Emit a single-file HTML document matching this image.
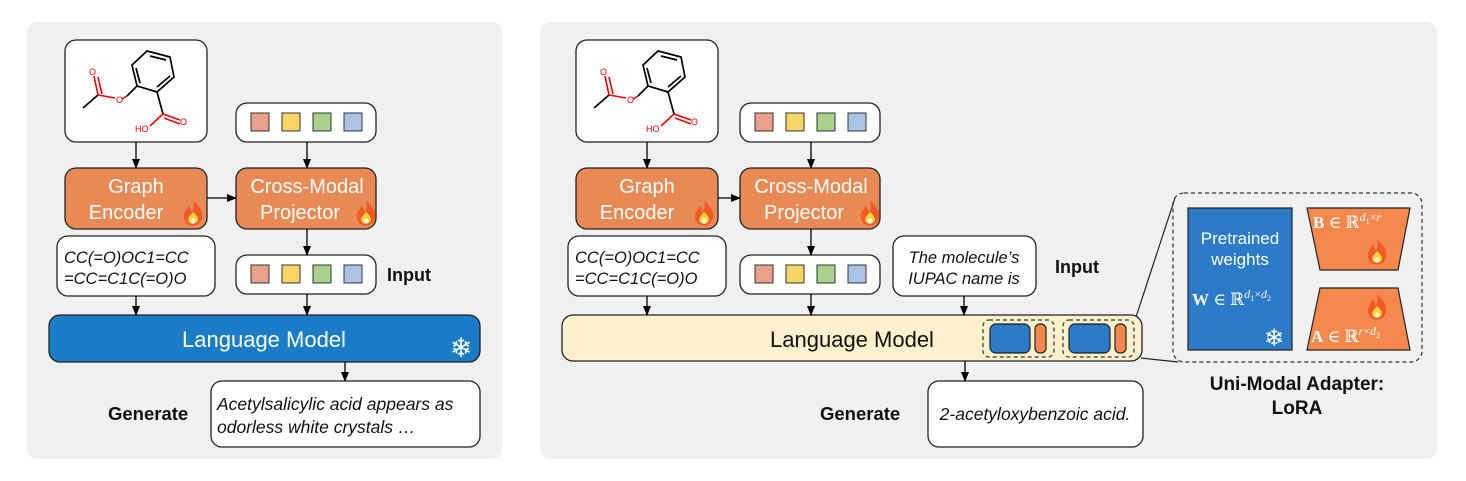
<!DOCTYPE html>
<html><head><meta charset="utf-8"><style>
html,body{margin:0;padding:0;background:#fff;}
svg{display:block;}
text{font-family:"Liberation Sans","DejaVu Sans",sans-serif;}
text.m{font-family:"Liberation Serif","DejaVu Serif",serif;}
</style></head><body>
<svg width="1466" height="481" viewBox="0 0 1466 481" xmlns="http://www.w3.org/2000/svg">
<defs>
<marker id="ar" markerWidth="10" markerHeight="10" refX="9" refY="5" orient="auto" markerUnits="userSpaceOnUse">
<path d="M0,1 L10,5 L0,9 Z" fill="#000"/></marker>
<g id="mol">
<g stroke="#000" stroke-width="1.7" fill="none">
<path d="M147,51 L170,57 L174,77 L157,92 L137,86 L132,65 Z"/>
<path d="M150,56 L166,60 M170,76 L157,87 M140,83 L136,68"/>
<path d="M137,86 L127,96"/>
<path d="M98,95 L83,108"/>
<path d="M157,92 L163,114"/>
</g>
<g stroke="#e00" stroke-width="1.6" fill="none">
<path d="M127,96 L122,99 M115,98 L98,95"/>
<path d="M98,95 L94,76 M102,94 L98,77"/>
<path d="M163,114 L180,120 M164,118 L180,124"/>
<path d="M163,114 L150,126"/>
</g>
<g fill="#e00" font-size="9"><text x="116" y="103">O</text><text x="89" y="75">O</text><text x="180" y="125">O</text><text x="135" y="132">HO</text></g>
</g>
<g id="sq">
<rect x="0" y="0" width="140" height="39" rx="11" fill="#fff" stroke="#222" stroke-width="1.3"/>
<rect x="15" y="10" width="18" height="18" fill="#e9a08a" stroke="#333"/>
<rect x="46" y="10" width="18" height="18" fill="#f6d466" stroke="#333"/>
<rect x="77" y="10" width="18" height="18" fill="#a8d18b" stroke="#333"/>
<rect x="108" y="10" width="18" height="18" fill="#abc4e6" stroke="#333"/>
</g>
<g id="fire0">
<path d="M0,-11 C5,-6 9,-2 8,4 C7,9 3,11 0,11 C-4,11 -8,8 -8,3 C-8,-1 -5,-3 -4,-7 C-2,-4 -2,-2 -1,-1 C1,-4 1,-7 0,-11 Z" fill="#f05a24"/>
<path d="M0,-1 C3,2 5,4 4,7 C3,10 -3,10 -4,7 C-5,4 -2,2 0,-1 Z" fill="#ffd23a"/>
<circle cx="0" cy="7" r="2.3" fill="#fff7d0"/>
</g>
<g id="fire"><use href="#fire0" transform="scale(1.15)"/></g>
</defs>

<rect x="27" y="22" width="475" height="437" rx="10" fill="#f0f0f0"/>
<rect x="540" y="22" width="897" height="437" rx="10" fill="#f0f0f0"/>

<!-- LEFT -->
<rect x="65" y="40" width="142" height="102" rx="11" fill="#fff" stroke="#222" stroke-width="1.3"/>
<use href="#mol"/>
<use href="#sq" x="236" y="103"/>
<rect x="65" y="168" width="142" height="61" rx="11" fill="#e88a55" stroke="#222" stroke-width="1.3"/>
<text x="136" y="193" font-size="20" fill="#fff" text-anchor="middle">Graph</text>
<text x="126" y="219" font-size="20" fill="#fff" text-anchor="middle">Encoder</text>
<use href="#fire" x="193" y="213"/>
<rect x="236" y="168" width="140" height="61" rx="11" fill="#e88a55" stroke="#222" stroke-width="1.3"/>
<text x="307" y="193" font-size="20" fill="#fff" text-anchor="middle">Cross-Modal</text>
<text x="300" y="219" font-size="20" fill="#fff" text-anchor="middle">Projector</text>
<use href="#fire" x="366" y="213"/>
<rect x="57" y="236" width="158" height="60" rx="11" fill="#fff" stroke="#222" stroke-width="1.3"/>
<text x="64" y="263" font-size="16.5" font-style="italic" fill="#111">CC(=O)OC1=CC</text>
<text x="64" y="284" font-size="16.5" font-style="italic" fill="#111">=CC=C1C(=O)O</text>
<use href="#sq" x="236" y="255"/>
<text x="387" y="281" font-size="18" font-weight="bold" fill="#111">Input</text>
<rect x="49" y="315" width="431" height="47" rx="11" fill="#1a7bc6" stroke="#222" stroke-width="1.3"/>
<text x="264" y="347" font-size="22" fill="#fff" text-anchor="middle">Language Model</text>
<text x="461" y="357" font-size="27" fill="#fff" text-anchor="middle">❄</text>
<rect x="211" y="381" width="269" height="66" rx="11" fill="#fff" stroke="#222" stroke-width="1.3"/>
<text x="217" y="410" font-size="17.5" font-style="italic" fill="#111">Acetylsalicylic acid appears as</text>
<text x="217" y="433" font-size="17.5" font-style="italic" fill="#111">odorless white crystals …</text>
<text x="108" y="420" font-size="18.5" font-weight="bold" fill="#111">Generate</text>
<g stroke="#000" stroke-width="1.3" marker-end="url(#ar)">
<line x1="136" y1="142" x2="136" y2="168"/>
<line x1="307" y1="142" x2="307" y2="168"/>
<line x1="207" y1="198" x2="236" y2="198"/>
<line x1="307" y1="229" x2="307" y2="255"/>
<line x1="136" y1="296" x2="136" y2="315"/>
<line x1="307" y1="294" x2="307" y2="315"/>
<line x1="345" y1="362" x2="345" y2="381"/>
</g>

<!-- RIGHT -->
<rect x="576" y="40" width="142" height="102" rx="11" fill="#fff" stroke="#222" stroke-width="1.3"/>
<use href="#mol" x="511"/>
<use href="#sq" x="740" y="103"/>
<rect x="576" y="168" width="142" height="61" rx="11" fill="#e88a55" stroke="#222" stroke-width="1.3"/>
<text x="647" y="193" font-size="20" fill="#fff" text-anchor="middle">Graph</text>
<text x="637" y="219" font-size="20" fill="#fff" text-anchor="middle">Encoder</text>
<use href="#fire" x="704" y="213"/>
<rect x="740" y="168" width="140" height="61" rx="11" fill="#e88a55" stroke="#222" stroke-width="1.3"/>
<text x="811" y="193" font-size="20" fill="#fff" text-anchor="middle">Cross-Modal</text>
<text x="804" y="219" font-size="20" fill="#fff" text-anchor="middle">Projector</text>
<use href="#fire" x="870" y="213"/>
<rect x="568" y="236" width="158" height="60" rx="11" fill="#fff" stroke="#222" stroke-width="1.3"/>
<text x="575" y="263" font-size="16.5" font-style="italic" fill="#111">CC(=O)OC1=CC</text>
<text x="575" y="284" font-size="16.5" font-style="italic" fill="#111">=CC=C1C(=O)O</text>
<use href="#sq" x="740" y="255"/>
<rect x="893" y="236" width="143" height="60" rx="11" fill="#fff" stroke="#222" stroke-width="1.3"/>
<text x="964" y="263" font-size="16.5" font-style="italic" fill="#111" text-anchor="middle">The molecule’s</text>
<text x="964" y="284" font-size="16.5" font-style="italic" fill="#111" text-anchor="middle">IUPAC name is</text>
<text x="1055" y="273" font-size="18" font-weight="bold" fill="#111">Input</text>
<rect x="562" y="315" width="580" height="46" rx="11" fill="#fdf0cc" stroke="#222" stroke-width="1.3"/>
<text x="852" y="347" font-size="22" fill="#111" text-anchor="middle">Language Model</text>
<g stroke="#333" stroke-width="1.2" stroke-dasharray="4,3" fill="none">
<rect x="983" y="320" width="71" height="37" rx="6"/>
<rect x="1063" y="320" width="71" height="37" rx="6"/>
<rect x="1173" y="193" width="249" height="169" rx="11"/>
</g>
<g stroke="#222" stroke-width="1.2">
<rect x="990" y="324" width="40" height="29" rx="6" fill="#2b7bc8"/>
<rect x="1035" y="324" width="11" height="29" rx="5" fill="#f5894d"/>
<rect x="1069" y="324" width="41" height="29" rx="6" fill="#2b7bc8"/>
<rect x="1115" y="324" width="11" height="29" rx="5" fill="#f5894d"/>
<line x1="1136" y1="317" x2="1175" y2="198"/>
<line x1="1141" y1="358" x2="1178" y2="362"/>
</g>
<rect x="928" y="381" width="215" height="66" rx="11" fill="#fff" stroke="#222" stroke-width="1.3"/>
<text x="1035" y="420" font-size="17.5" font-style="italic" fill="#111" text-anchor="middle">2-acetyloxybenzoic acid.</text>
<text x="820" y="420" font-size="18.5" font-weight="bold" fill="#111">Generate</text>
<g stroke="#000" stroke-width="1.3" marker-end="url(#ar)">
<line x1="647" y1="142" x2="647" y2="168"/>
<line x1="811" y1="142" x2="811" y2="168"/>
<line x1="718" y1="198" x2="740" y2="198"/>
<line x1="811" y1="229" x2="811" y2="255"/>
<line x1="647" y1="296" x2="647" y2="315"/>
<line x1="811" y1="294" x2="811" y2="315"/>
<line x1="964" y1="296" x2="964" y2="315"/>
<line x1="965" y1="361" x2="965" y2="381"/>
</g>

<!-- LoRA -->
<rect x="1188" y="208" width="104" height="142" fill="#2b7bc8" stroke="#222" stroke-width="1.2"/>
<text x="1240" y="244" font-size="17" fill="#fff" text-anchor="middle">Pretrained</text>
<text x="1240" y="265" font-size="17" fill="#fff" text-anchor="middle">weights</text>
<text class="m" x="1192" y="305" font-size="17" fill="#fff"><tspan font-weight="bold">W</tspan> ∈ ℝ<tspan font-size="12" dy="-7" font-style="italic">d</tspan><tspan font-size="8" dy="3">1</tspan><tspan font-size="12" dy="-3">×</tspan><tspan font-size="12" font-style="italic">d</tspan><tspan font-size="8" dy="3">2</tspan></text>
<text x="1274" y="346" font-size="24" fill="#fff" text-anchor="middle">❄</text>
<path d="M1307,208 L1410,208 L1398,270 L1320,270 Z" fill="#f5894d" stroke="#222" stroke-width="1.2"/>
<path d="M1320,288 L1398,288 L1410,350 L1307,350 Z" fill="#f5894d" stroke="#222" stroke-width="1.2"/>
<text class="m" x="1313" y="228" font-size="17" fill="#fff"><tspan font-weight="bold">B</tspan> ∈ ℝ<tspan font-size="12" dy="-7" font-style="italic">d</tspan><tspan font-size="8" dy="3">1</tspan><tspan font-size="12" dy="-3">×</tspan><tspan font-size="12" font-style="italic">r</tspan></text>
<text class="m" x="1311" y="342" font-size="17" fill="#fff"><tspan font-weight="bold">A</tspan> ∈ ℝ<tspan font-size="12" dy="-7" font-style="italic">r</tspan><tspan font-size="12">×</tspan><tspan font-size="12" font-style="italic">d</tspan><tspan font-size="8" dy="3">2</tspan></text>
<use href="#fire" x="1377" y="252"/>
<use href="#fire" x="1377" y="307"/>
<text x="1297" y="390" font-size="19" font-weight="bold" fill="#111" text-anchor="middle">Uni-Modal Adapter:</text>
<text x="1297" y="414" font-size="19" font-weight="bold" fill="#111" text-anchor="middle">LoRA</text>
</svg>
</body></html>
